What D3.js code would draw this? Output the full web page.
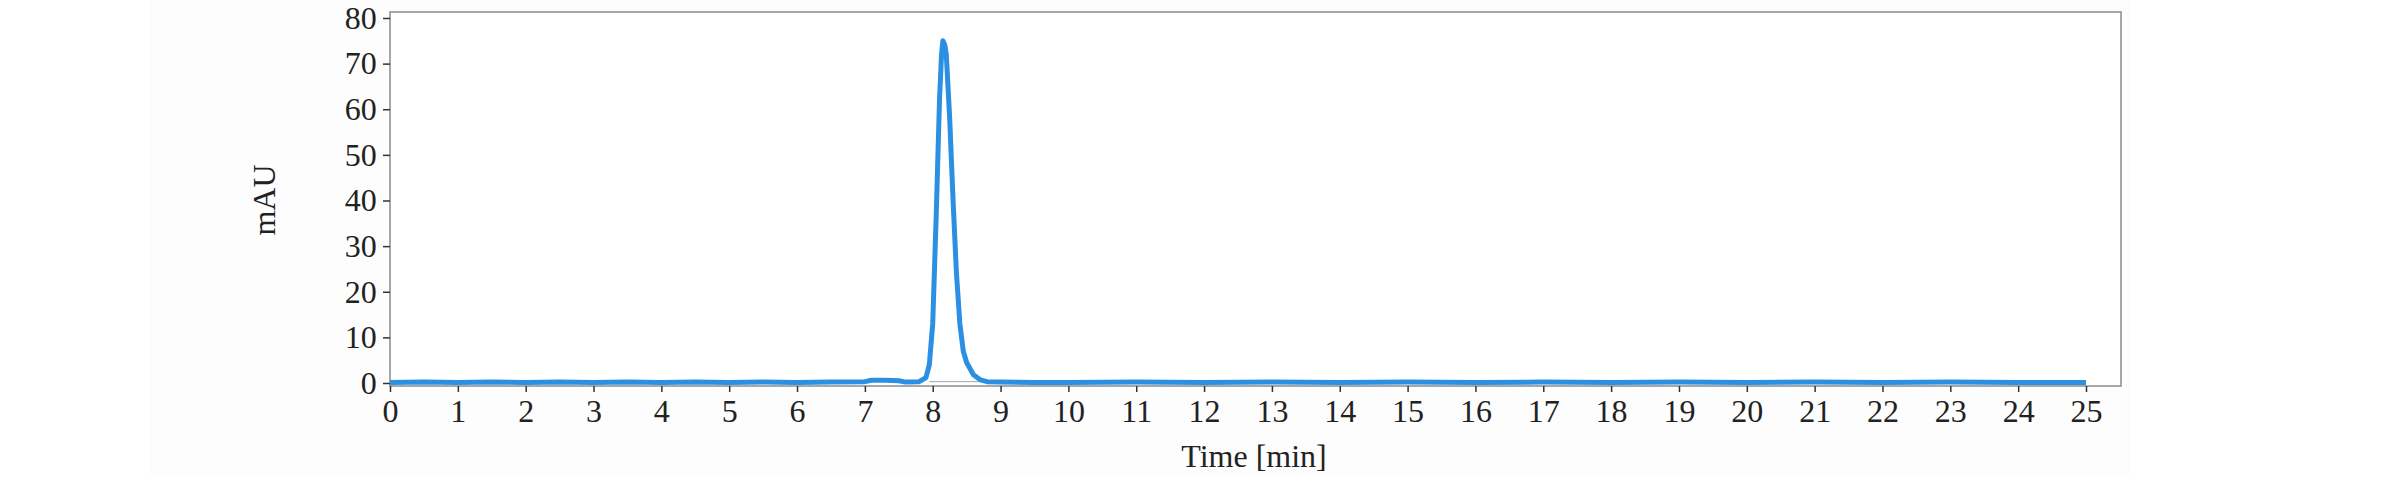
<!DOCTYPE html>
<html><head><meta charset="utf-8">
<script src="https://cdn.jsdelivr.net/npm/d3@7"></script>
<style>body{margin:0;background:#fff}svg{display:block}</style>
</head><body>
<svg id="c" width="2382" height="488"></svg>
<script>
const times = [0,0.5,1,1.5,2,2.5,3,3.5,4,4.5,5,5.5,6,6.5,7,7.1,7.3,7.5,7.6,7.8,7.9,7.95,8.0,8.05,8.1,8.13,8.15,8.18,8.2,8.25,8.3,8.35,8.4,8.45,8.5,8.6,8.7,8.8,9,9.5,10,11,12,13,14,15,16,17,18,19,20,21,22,23,24,25];
const signal = [0.1,0.2,0.1,0.2,0.1,0.2,0.1,0.2,0.1,0.2,0.1,0.2,0.1,0.2,0.3,0.6,0.6,0.5,0.2,0.3,1.2,4,13,36,62,72,75,74,72,58,40,24,13,7,4.5,1.8,0.7,0.3,0.2,0.1,0.1,0.2,0.1,0.2,0.1,0.2,0.1,0.2,0.1,0.2,0.1,0.2,0.1,0.2,0.1,0.1];
const baseT = [7.95,8.75];
const baseV = [0.3,0.3];
const xTicks = d3.range(0,26);
const yTicks = [0,10,20,30,40,50,60,70,80];

const svg = d3.select("#c");
const L=390, R=2121, T=12, B=386;
const x = d3.scaleLinear().domain([0,25]).range([390,2086]);
const y = d3.scaleLinear().domain([0,80]).range([383,18]);
const font = "'Liberation Serif', serif";

svg.append("rect").attr("x",150).attr("y",0).attr("width",1980).attr("height",476).attr("fill","#fdfdfd");
svg.append("rect").attr("x",L).attr("y",T).attr("width",R-L).attr("height",B-T).attr("fill","#fff").attr("stroke","#8a8a8a").attr("stroke-width",1.5);

const data = times.map((t,i)=>[t,signal[i]]);
const line = d3.line().x(d=>x(d[0])).y(d=>y(d[1]));
svg.append("path").attr("d",line(baseT.map((t,i)=>[t,baseV[i]]))).attr("stroke","#9aa","stroke-width",1.2).attr("fill","none");
svg.append("path").attr("d",line(data)).attr("stroke","#2b8fe3").attr("stroke-width",5).attr("fill","none").attr("stroke-linejoin","round");

const xa = svg.append("g").attr("transform",`translate(0,${B})`).call(d3.axisBottom(x).tickValues(xTicks).tickSize(6).tickSizeOuter(0).tickFormat(d3.format("d")));
xa.select(".domain").remove();
xa.selectAll("line").attr("stroke","#333").attr("stroke-width",1.5);
xa.selectAll("text").attr("font-family",font).attr("font-size",32).attr("fill","#222").attr("dy","0.85em");

const ya = svg.append("g").attr("transform",`translate(${L},0)`).call(d3.axisLeft(y).tickValues(yTicks).tickSize(7).tickSizeOuter(0));
ya.select(".domain").remove();
ya.selectAll("line").attr("stroke","#333").attr("stroke-width",1.5);
ya.selectAll("text").attr("font-family",font).attr("font-size",32).attr("fill","#222").attr("dx","-0.1em");

svg.append("text").attr("x",1254).attr("y",467).attr("text-anchor","middle").attr("font-family",font).attr("font-size",32).attr("fill","#222").text("Time [min]");
svg.append("text").attr("transform","translate(275,200) rotate(-90)").attr("text-anchor","middle").attr("font-family",font).attr("font-size",32).attr("fill","#222").text("mAU");
</script>
</body></html>
